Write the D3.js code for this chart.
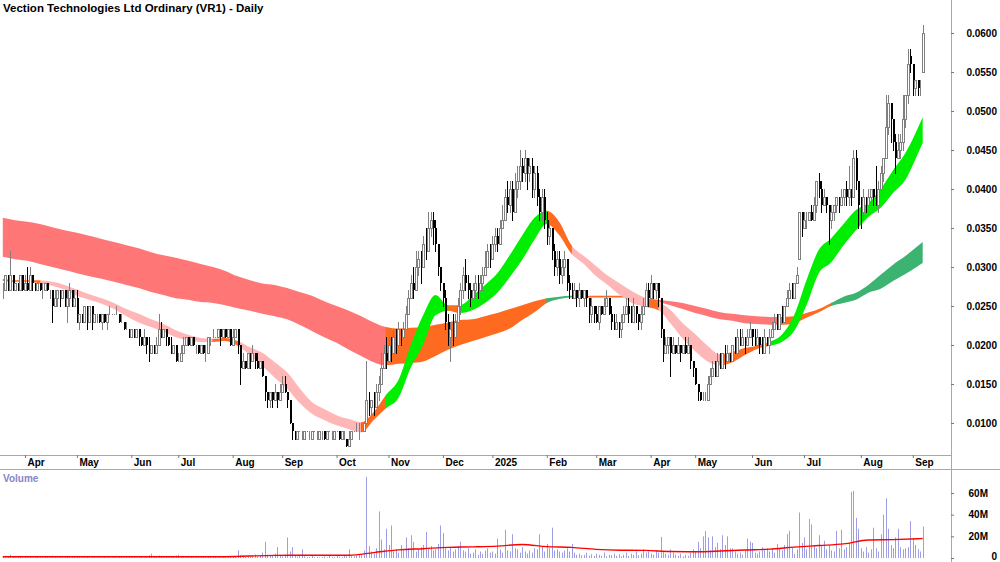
<!DOCTYPE html>
<html>
<head>
<meta charset="utf-8">
<script src="https://cdn.jsdelivr.net/npm/d3@7"></script>
<style>
body { margin: 0; background: #fff; }
svg { display: block; font-family: "Liberation Sans", Arial, sans-serif; }
</style>
</head>
<body>
<svg id="chart" width="1000" height="562"></svg>
<script>
// Prix en dixiemes de cent (27 = 0.027 $), une barre par seance, mars 2024 -> sept 2025
const open = [
  27,27,29,27,29,27,28,27,29,27, 28,27,29,28,27,28,27,27,28,27, 27,25,26,27,26,27,25,26,27,25,
  26,23,24,23,25,23,25,23,24,24, 23,24,23,24,24,24,24,24,23,23, 22,22,21,22,21,22,21,20,21,20,
  19,20,19,20,22,21,22,21,20,19, 20,18,18,19,20,21,20,21,20,20, 19,20,19,19,21,21,21,21,22,21,
  22,21,22,20,21,22,20,17,18,17, 19,18,19,18,17,18,16,14,13,14, 13,14,13,14,15,14,13,10,9,8,
  9,9,8,9,8,8,9,9,8,9, 9,8,9,9,8,9,9,8,9,8, 7,8,9,9,9,9,9,10,13,12,
  13,12,14,15,17,19,18,20,19,21, 20,22,21,22,24,26,28,27,30,31, 30,33,32,35,36,35,33,30,28,26,
  23,21,22,21,23,25,27,29,28,27, 26,27,28,27,28,29,30,32,31,33, 34,33,35,36,39,38,40,37,40,41,
  43,42,44,42,43,40,42,39,37,39, 36,34,35,32,30,31,29,30,31,28, 27,26,27,26,27,26,27,26,24,25,
  24,23,25,24,25,26,24,23,22,23, 22,23,24,25,24,23,25,24,23,24, 25,27,26,28,27,28,26,22,19,20,
  21,19,20,19,20,19,20,19,20,18, 17,15,14,13,13,13,15,16,17,16, 18,17,19,18,19,18,20,19,21,20,
  21,20,21,22,21,20,21,20,19,21, 20,21,22,23,22,24,23,25,26,27, 26,28,31,37,35,36,36,37,36,38,
  41,40,38,39,38,36,37,38,39,38, 39,40,39,40,39,44,41,38,37,39, 38,39,40,39,38,40,42,44,48,51,
  49,46,44,45,46,49,52,57,56,53, 54,53,55
];
const high = [
  28,29,29,32,29,28,28,29,29,29, 30,30,29,28,28,28,28,28,28,27, 27,27,27,27,27,27,27,28,27,27,
  27,24,24,25,25,25,25,24,24,24, 24,24,24,25,24,24,25,24,24,23, 23,22,22,22,22,22,21,22,21,21,
  20,20,21,24,23,22,22,21,21,20, 20,19,20,21,21,21,21,21,20,20, 20,20,20,21,21,22,21,22,22,22,
  22,22,22,22,22,22,20,19,18,19, 19,20,19,19,18,18,16,14,14,14, 15,14,15,16,16,14,13,10,9,9,
  9,9,9,9,9,9,9,9,9,9, 9,9,9,9,9,9,9,9,9,8, 9,9,9,10,10,10,10,18,14,13,
  14,15,16,19,20,21,21,21,22,22, 23,22,23,25,27,29,30,32,32,32, 34,35,37,37,37,36,33,30,28,27,
  24,23,24,24,26,28,30,31,29,28, 28,29,29,29,30,32,33,33,34,35, 35,36,38,40,41,41,41,42,43,45,
  44,45,44,44,44,43,43,40,40,40, 37,36,35,33,32,32,31,32,31,29, 28,28,27,28,27,27,27,26,26,25,
  25,25,25,26,27,26,25,24,24,23, 24,25,26,26,25,26,25,24,25,26, 28,28,29,28,28,28,26,22,21,21,
  21,21,20,21,20,20,21,21,20,18, 17,15,14,14,14,16,17,18,18,19, 19,19,20,20,19,20,21,22,22,22,
  21,22,23,22,22,22,21,21,22,21, 22,23,24,24,24,25,25,27,28,28, 28,30,37,37,37,37,37,38,39,41,
  42,41,40,39,38,38,38,39,39,40, 40,41,43,40,45,45,41,39,40,39, 40,40,40,43,41,43,44,52,52,51,
  49,47,47,47,52,52,58,58,56,54, 54,54,61
];
const low = [
  26,27,27,27,27,27,27,27,27,27, 27,27,27,27,27,27,26,27,27,26, 23,25,25,25,26,25,23,25,25,25,
  23,22,23,23,22,23,22,23,23,23, 22,23,22,24,24,24,24,23,23,22, 22,21,21,21,21,20,20,20,19,18,
  19,19,19,20,21,21,20,20,19,19, 18,18,18,19,20,20,20,20,19,19, 19,19,18,19,20,21,21,21,20,21,
  21,21,20,20,21,19,15,17,17,17, 17,18,17,17,17,16,13,12,12,12, 13,12,13,14,14,12,10,8,8,8,
  9,8,8,9,8,8,9,8,8,8, 8,8,9,8,8,9,8,8,8,7, 7,8,9,9,8,9,9,10,11,11,
  11,12,13,15,17,17,18,18,19,19, 20,20,21,22,24,26,26,27,29,28, 30,31,32,34,33,32,29,27,25,22,
  20,18,20,21,23,24,26,27,26,25, 26,26,26,27,27,29,30,30,31,32, 32,33,35,36,37,37,36,37,39,40,
  41,41,40,41,39,39,38,36,36,35, 33,33,31,29,29,28,28,29,27,26, 26,26,25,25,26,25,25,23,23,23,
  23,22,24,24,25,24,22,22,22,21, 21,23,24,23,23,23,23,22,22,24, 25,25,26,26,26,25,21,18,19,19,
  16,19,19,19,18,19,19,19,17,16, 15,13,13,13,13,13,15,16,16,16, 17,17,17,18,18,18,19,19,20,20,
  19,20,21,20,20,20,19,19,19,20, 19,21,22,22,22,23,23,25,26,26, 26,28,31,34,35,35,36,36,36,37,
  39,37,38,37,33,35,36,37,37,38, 38,38,38,38,39,40,35,35,36,37, 38,38,38,38,37,40,41,44,47,46,
  45,42,44,44,45,48,51,55,52,52, 52,52,55
];
const close = [
  27,29,27,29,27,28,27,29,27,28, 27,29,28,27,28,27,27,28,27,27, 25,26,27,26,27,25,26,27,25,26,
  23,24,23,25,23,25,23,24,24,23, 24,23,24,24,24,24,24,23,23,22, 22,21,22,21,22,21,20,21,20,19,
  20,19,20,22,21,22,21,20,19,20, 18,18,19,20,21,20,21,20,20,19, 20,19,19,21,21,21,21,22,21,22,
  21,22,20,21,22,20,17,18,17,19, 18,19,18,17,18,16,14,13,14,13, 14,13,14,15,14,13,10,9,8,9,
  9,9,9,9,8,9,9,9,9,9, 8,9,9,9,9,9,8,9,9,7, 8,9,9,9,9,9,10,13,12,13,
  12,14,15,17,19,18,20,19,21,20, 22,21,22,24,26,28,27,30,31,30, 33,32,35,36,35,33,30,28,26,23,
  21,22,21,23,25,27,29,28,27,26, 27,28,27,28,29,30,32,31,33,34, 33,35,36,39,38,40,37,40,41,43,
  42,44,42,43,40,42,39,37,39,36, 34,35,32,30,31,29,30,31,28,27, 26,27,26,27,26,27,26,24,25,24,
  23,25,24,25,26,24,23,22,23,22, 23,24,25,24,23,25,24,23,24,25, 27,26,28,27,28,26,22,19,20,21,
  19,20,19,20,19,20,19,20,18,17, 15,14,13,13,13,15,16,17,16,18, 17,19,18,19,18,20,19,21,20,21,
  20,21,22,21,20,21,20,19,21,20, 21,22,23,22,24,23,25,26,27,26, 28,29,37,35,36,36,37,36,38,41,
  40,38,39,38,36,37,38,39,38,39, 40,39,40,39,44,41,38,37,39,38, 39,40,39,38,40,42,44,48,51,49,
  46,44,45,46,49,52,56,56,53,54, 53,53,60
];
// Volume en millions d'actions
const volume = [
  1.5,0.8,1.2,3,1,0.6,0.9,1.4,0.7,1.1, 0.8,1.6,0.5,0.9,1.2,0.6,0.4,1,0.7,0.5,
  2,1.1,0.6,0.9,0.5,1.3,1.8,0.7,0.6,1, 1.5,0.8,0.6,1.2,0.9,0.5,1.1,0.7,0.6,0.8,
  0.5,1,0.7,0.4,0.6,0.9,0.5,1.2,0.8,0.6, 1.1,0.7,0.9,1.4,0.6,0.8,1,0.5,1.6,2.5,
  4,1.2,0.9,2.2,1.5,0.8,1,0.7,1.3,0.9, 2.4,3,1.1,0.8,0.6,1,1.4,0.7,0.9,0.6,
  0.8,1.2,0.5,1.5,0.9,0.7,1.1,0.6,0.8,1, 0.7,1.3,0.9,2,1.5,7,2.5,1.2,0.9,1.6,
  1.1,2,3.2,1.4,2.6,5,15,3,2.2,1.8, 4,10,2.5,1.5,3,19,6,10,2,1.2,
  3,8,1.5,0.8,1,2.2,0.7,1,0.6,0.9, 1.3,0.6,2,1,0.8,1.8,1.2,0.7,2.5,1.5,
  8,2,1.5,2.2,3,2.5,7,75,11,6, 4,9,43,17,8,27,12,30,6,8,
  5,12,7,19,9,21,15,6,8,10, 12,24,9,11,7,8,13,30,23,9,
  7,10,6,8,11,15,7,6,9,4, 5,8,3,6,4,7,9,5,6,4,
  18,8,5,26,7,6,22,9,8,5, 10,6,4,7,5,9,8,22,11,6,
  13,9,28,7,8,6,5,7,9,6, 13,5,3,4,2.5,3,5,2,3.5,2,
  4,3,2,5,1.5,3,2.5,4,2,3.5, 1.5,3,5,2,4,3,6,2.5,4,8,
  5,6,4,3,7,5,19.5,6,4,3, 8,5,3,2,4,1.5,3,2,5,8,
  6,15,9,20,25,19,7,20,10,14, 8,21,12,20,9,9,6,4,5,3,
  7,18,15,14,5,4,6,10,7,9, 6,8,5,13,9,7,12,22,25,10,
  4,8,42,14,19,8,36,31,12,9, 21,11,16,8,12,7,6,25,9,26,
  8,10,14,61,62,37,27,9,6,10, 5,8,28,9,6,22,40,55,27,12,
  9,19,27,10,8,9,10,34,18,12, 8,6,29
];

// Moyenne mobile du volume, lue toutes les 10 seances (+ la derniere)
const volAvg = [1.2,1.2,1.2,1.1,1.1,1.1,1.2,1.2,1.1,1.2, 1.8,2.4,2.6,2.6,2.6,5,7.5,8.6,9.8,10.3,
  11,12.5,10.5,9.8,8,7.2,7,6,5.8,6.4, 7.4,8.2,10,11.5,13,16.6,17,17.8,18];

// Rubans de moyennes mobiles, lus toutes les 5 seances (+ la derniere)
const longTop = [36.3,36.0,35.8,35.5,35.1,34.7,34.4,34.0,33.6,33.2, 32.8,32.4,31.9,31.5,31.2,30.8,30.4,30.0,29.5,28.8,
  28.3,27.9,27.7,27.3,26.8,26.3,25.6,25.0,24.4,23.7, 22.9,22.3,22.1,22.2,22.3,22.6,22.9,23.2,23.3,23.7,
  24.1,24.6,25.1,25.6,26.0,26.2,26.3,26.3,26.3,26.3, 26.3,26.2,26.0,25.8,25.6,25.4,25.0,24.6,24.2,24.0,
  23.8,23.7,23.6,23.6,23.7,24.1,24.6,25.4,26.2,26.7, 27.7,29.0,30.3,31.4,32.7,33.2];
const longBot = [31.3,31.0,30.8,30.4,30.0,29.6,29.2,28.8,28.5,28.1, 27.7,27.3,26.8,26.4,26.0,25.8,25.5,25.4,25.1,24.7,
  24.4,24.0,23.7,23.3,22.6,21.8,21.0,20.3,19.4,18.6, 17.8,17.4,17.6,17.7,17.9,18.6,19.4,20.0,20.5,21.0,
  21.5,22.1,23.2,24.2,25.4,25.9,26.1,26.1,26.1,26.1, 26.1,26.0,25.8,25.5,25.1,24.6,24.1,23.7,23.3,23.1,
  22.8,22.7,22.6,22.6,22.8,23.5,24.2,25.0,25.4,25.8, 26.7,27.2,28.2,29.1,30.1,30.5];
const shortTop = [28.5,28.3,28.3,28.3,28.1,27.7,27.1,26.5,26.0,25.4, 24.6,24.0,23.3,22.7,21.9,21.3,20.9,20.8,20.9,20.5,
  19.7,19.0,17.8,16.5,14.5,12.7,11.8,11.0,10.5,10.1, 11.4,13.6,15.5,20.0,23.8,26.4,25.1,25.1,26.3,27.7,
  29.2,31.5,34.0,36.3,37.2,35.8,32.8,31.4,30.1,28.8, 27.8,26.8,26.0,25.5,24.5,22.8,21.4,19.9,18.8,19.1,
  19.6,19.9,20.4,21.3,23.8,28.3,32.2,33.7,35.5,37.3, 38.2,40.0,42.4,44.6,47.8,49.2];
const shortBot = [28.2,28.1,28.1,27.9,27.6,27.1,26.3,25.8,25.3,24.6, 23.7,22.9,22.3,21.7,21.0,20.6,20.4,20.4,20.5,19.9,
  18.7,17.3,15.8,14.4,12.6,11.2,10.4,9.7,9.2,8.8, 10.4,11.9,13.2,17.1,20.0,23.8,24.4,24.1,24.5,25.4,
  26.7,28.7,30.9,33.5,35.5,34.1,31.7,30.4,28.8,27.6, 26.3,25.3,24.9,24.5,22.8,20.8,19.2,17.9,17.4,17.8,
  18.7,19.5,19.9,20.4,21.8,25.1,29.2,30.6,32.8,34.7, 36.4,37.6,39.5,41.2,44.5,45.9];
// Couleur de chaque troncon : R baisse (long), P baisse (court), O croisement, G hausse (court), D hausse (long)
const longRuns = [["R",31],["O",13],["D",3],["O",6],["R",10],["O",4],["D",9]];
const shortRuns = [["O",3],["P",14],["O",2],["P",10],["O",2],["G",5],["O",1],["G",7],["O",2],["P",6],["O",1],["P",5],["O",4],["G",14]];

// Axes
const monthStart = [9,30,52,71,93,113,135,156,178,198,220,240,262,280,303,324,347,368];
const monthLabel = ["Apr","May","Jun","Jul","Aug","Sep","Oct","Nov","Dec","2025","Feb","Mar","Apr","May","Jun","Jul","Aug","Sep"];
const priceTicks = [0.010,0.015,0.020,0.025,0.030,0.035,0.040,0.045,0.050,0.055,0.060];
const volTicks = [0,20,40,60];

const colors = {R: "#ff7676", P: "#ffb6b6", O: "#ff6a21", G: "#00ee00", D: "#3cb371"};
const plotRight = 951, priceBottom = 455, axisBottom = 469;
const font = "\"Liberation Sans\", Arial, sans-serif";

const svg = d3.select("#chart");
const defs = svg.append("defs");
defs.append("clipPath").attr("id", "pclip")
    .append("rect").attr("width", plotRight).attr("height", priceBottom);

const x = d3.scaleLinear().domain([0, close.length - 1]).range([2.7, 922.7]);
const y = d3.scaleLinear().domain([0.010, 0.060]).range([423, 33]);
const yv = d3.scaleLinear().domain([0, 60]).range([558, 493]);
const mil = v => v / 1000;

const last = close.length - 1;
const bandAt = d3.range(0, last - 1, 5).concat([last]);
const avgAt = d3.range(0, last - 1, 10).concat([last]);

const plot = svg.append("g").attr("clip-path", "url(#pclip)");

// Rubans colores par troncon (un trace par couleur, decoupe par clipPath)
function drawBand(top, bot, runs, name) {
  const codes = runs.flatMap(([c, n]) => Array(n).fill(c));
  const pts = bandAt.map((i, k) => ({i: i, t: top[k], b: bot[k]}));
  const area = d3.area().curve(d3.curveMonotoneX)
      .x(d => x(d.i)).y0(d => y(mil(d.b))).y1(d => y(mil(d.t)));
  const g = plot.append("g");
  Object.keys(colors).forEach(c => {
    const segs = d3.range(pts.length - 1).filter(k => codes[k] === c);
    if (!segs.length) return;
    const id = name + c;
    defs.append("clipPath").attr("id", id)
      .selectAll("rect").data(segs).join("rect")
        .attr("x", k => x(bandAt[k]) - 0.4)
        .attr("width", k => x(bandAt[k + 1]) - x(bandAt[k]) + 0.8)
        .attr("y", 0).attr("height", priceBottom);
    g.append("path").attr("d", area(pts))
        .attr("fill", colors[c]).attr("clip-path", `url(#${id})`);
  });
}
drawBand(longTop, longBot, longRuns, "lb");
drawBand(shortTop, shortBot, shortRuns, "sb");

// Chandeliers : creux gris en hausse, pleins noirs en baisse
const bars = close.map((c, i) => ({i: i, o: open[i], h: high[i], l: low[i], c: c}));
const px = d => Math.round(x(d.i));
const up = d => d.c >= d.o;
const bodyTop = d => Math.round(y(mil(Math.max(d.o, d.c))));
const bodyBot = d => Math.round(y(mil(Math.min(d.o, d.c))));
const candles = plot.append("g").selectAll("g").data(bars).join("g");
candles.append("line")
    .attr("x1", d => px(d) + 0.5).attr("x2", d => px(d) + 0.5)
    .attr("y1", d => Math.round(y(mil(d.h))))
    .attr("y2", d => Math.round(y(mil(d.l))) + 1)
    .attr("stroke", d => up(d) ? "#808080" : "#000");
candles.filter(d => up(d)).append("rect")
    .attr("x", d => px(d) - 0.5)
    .attr("y", d => bodyTop(d) + 0.5)
    .attr("width", 2)
    .attr("height", d => bodyBot(d) - bodyTop(d))
    .attr("fill", "#fff")
    .attr("stroke", "#808080")
    .attr("stroke-width", 1);
candles.filter(d => !up(d)).append("rect")
    .attr("x", d => px(d))
    .attr("y", d => bodyTop(d))
    .attr("width", 2)
    .attr("height", d => Math.max(1, bodyBot(d) - bodyTop(d)))
    .attr("fill", "#000");

// Volume
svg.append("g").selectAll("line").data(volume).join("line")
    .attr("x1", (v, i) => Math.round(x(i)) + 0.5).attr("x2", (v, i) => Math.round(x(i)) + 0.5)
    .attr("y1", yv(0)).attr("y2", v => yv(v))
    .attr("stroke", "#9e9ee2");
svg.append("path")
    .datum(volAvg)
    .attr("d", d3.line().curve(d3.curveMonotoneX).x((v, k) => x(avgAt[k])).y(v => yv(v)))
    .attr("fill", "none").attr("stroke", "#ff0000").attr("stroke-width", 1.4);

svg.append("text").attr("x", 3).attr("y", 482)
    .attr("font-size", 10).attr("font-weight", "bold").attr("fill", "#8585c8")
    .text("Volume");

// Cadre
svg.append("line").attr("x1", 0).attr("x2", plotRight).attr("y1", priceBottom + 0.5).attr("y2", priceBottom + 0.5).attr("stroke", "#a8a8a8");
svg.append("line").attr("x1", 0).attr("x2", 1000).attr("y1", axisBottom + 0.5).attr("y2", axisBottom + 0.5).attr("stroke", "#a8a8a8");
svg.append("line").attr("x1", plotRight + 0.5).attr("x2", plotRight + 0.5).attr("y1", 0).attr("y2", 562).attr("stroke", "#a8a8a8");

// Axe des mois
const ax = svg.append("g").attr("transform", `translate(0,${priceBottom})`)
    .call(d3.axisBottom(x).tickValues(monthStart).tickFormat((d, k) => monthLabel[k]).tickSize(3).tickPadding(1));
ax.select(".domain").remove();
ax.selectAll("line").attr("stroke", "#777");
ax.selectAll("text").attr("text-anchor", "start").attr("dx", 2)
    .attr("font-size", 10).attr("font-weight", "bold").attr("fill", "#000").attr("font-family", font);

// Axe des prix
const ay = svg.append("g").attr("transform", `translate(${plotRight},0)`)
    .call(d3.axisRight(y).tickValues(priceTicks).tickFormat(d3.format(".4f")).tickSize(3));
ay.select(".domain").remove();
ay.selectAll("line").attr("stroke", "#777");
ay.selectAll("text").attr("x", 46).attr("text-anchor", "end")
    .attr("font-size", 10).attr("font-weight", "bold").attr("fill", "#000").attr("font-family", font);

// Axe du volume
const av = svg.append("g").attr("transform", `translate(${plotRight},0)`)
    .call(d3.axisRight(yv).tickValues(volTicks).tickFormat(d => d ? d + "M" : "0").tickSize(3));
av.select(".domain").remove();
av.selectAll("line").attr("stroke", "#777");
av.selectAll("text").attr("x", d => d ? 37 : 46).attr("text-anchor", "end")
    .attr("dy", d => d ? "0.32em" : "0.1em")
    .attr("font-size", 10).attr("font-weight", "bold").attr("fill", "#000").attr("font-family", font);

// Titre
svg.append("text").attr("x", 3).attr("y", 12)
    .attr("font-size", 11.5).attr("font-weight", "bold").attr("fill", "#000")
    .text("Vection Technologies Ltd Ordinary (VR1) - Daily");
</script>
</body>
</html>
